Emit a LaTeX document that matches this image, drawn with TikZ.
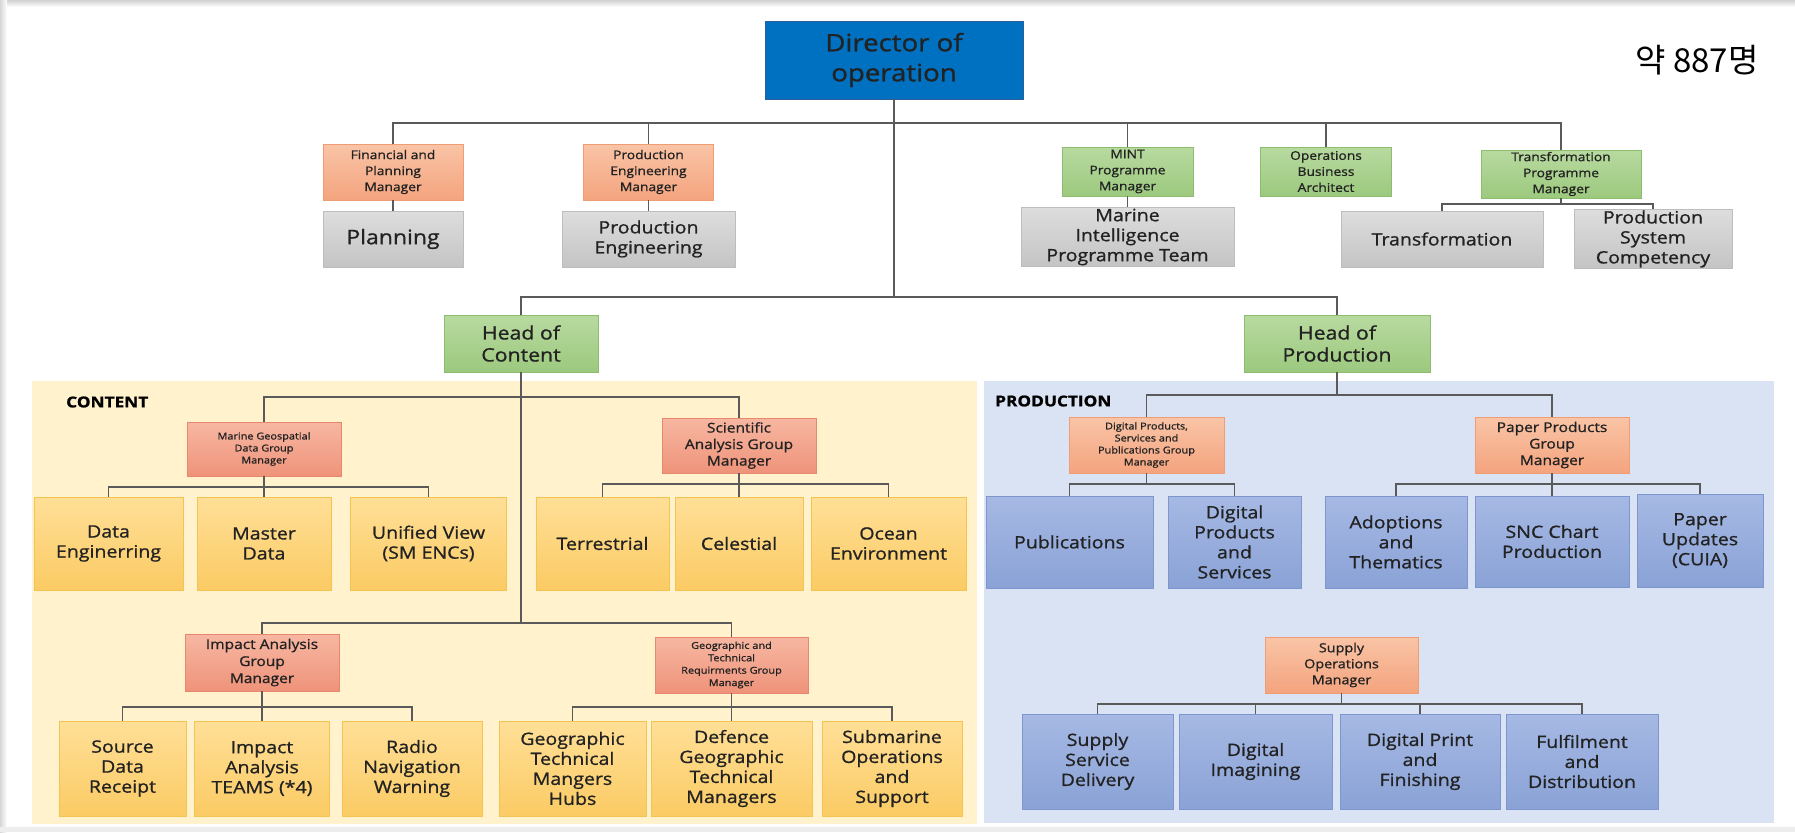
\documentclass[tikz,border=0pt]{standalone}
\usepackage{fontspec}
\setmainfont{Open Sans}[FakeStretch=1.15, FakeBold=1.0]
\newfontfamily\krfont{Noto Sans CJK KR}
\usetikzlibrary{positioning}
\definecolor{txt}{HTML}{222222}
\definecolor{lnc}{HTML}{5A5A5A}
\definecolor{dirfill}{HTML}{0070C0}
\definecolor{dirdraw}{HTML}{2A5F9A}
\definecolor{orT}{HTML}{F9C4A6}
\definecolor{orB}{HTML}{F4A47E}
\definecolor{orD}{HTML}{F09C74}
\definecolor{rdT}{HTML}{F7B7A2}
\definecolor{rdB}{HTML}{EF937A}
\definecolor{rdD}{HTML}{E7886E}
\definecolor{grT}{HTML}{B8DAA0}
\definecolor{grB}{HTML}{9CC97E}
\definecolor{grD}{HTML}{8DBE70}
\definecolor{gyT}{HTML}{DDDDDD}
\definecolor{gyB}{HTML}{C4C4C4}
\definecolor{gyD}{HTML}{BDBDBD}
\definecolor{ylT}{HTML}{FFDF97}
\definecolor{ylB}{HTML}{FBCB64}
\definecolor{ylD}{HTML}{F5C352}
\definecolor{blT}{HTML}{A6B9E4}
\definecolor{blB}{HTML}{8AA2D6}
\definecolor{blD}{HTML}{7D96CE}
\definecolor{cpan}{HTML}{FFF2CC}
\definecolor{ppan}{HTML}{DAE3F3}
\newcommand{\fsz}[2]{\fontsize{#1}{#2}\selectfont}
\tikzset{
  box/.style={rectangle, line width=0.8pt, inner sep=1pt, align=center, text=txt},
  dirbox/.style={box, fill=dirfill, draw=dirdraw, font=\fsz{24}{30}},
  orbox/.style={box, top color=orT, bottom color=orB, draw=orD},
  rdbox/.style={box, top color=rdT, bottom color=rdB, draw=rdD},
  grbox/.style={box, top color=grT, bottom color=grB, draw=grD},
  gybox/.style={box, top color=gyT, bottom color=gyB, draw=gyD},
  ylbox/.style={box, top color=ylT, bottom color=ylB, draw=ylD, font=\fsz{17}{20}},
  blbox/.style={box, top color=blT, bottom color=blB, draw=blD, font=\fsz{17}{20}},
  panel/.style={rectangle, inner sep=0pt, draw=none},
  conn/.style={draw=lnc, line width=1.6pt},
  sz/.style 2 args={minimum width=#1pt, minimum height=#2pt},
  lbl/.style={font=\bfseries\fsz{15}{18}, text=black, anchor=west, inner sep=0pt},
}
\begin{document}
\begin{tikzpicture}[x=1pt,y=-1pt]
\useasboundingbox (0,0) rectangle (1795,832);
% frame
\fill[white] (0,0) rectangle (1795,832);
\shade[top color=black!18, bottom color=white] (0,0) rectangle (1795,7);
\shade[left color=black!16, right color=white] (0,0) rectangle (7,832);
\fill[black!7] (0,827) rectangle (1795,832);

% panels
\node[panel, fill=cpan, sz={945}{443}] (cpanel) at (504.5,602.5) {};
\node[panel, fill=ppan, sz={790}{442}] (ppanel) at (1379,602) {};
\node[lbl] (clbl) at (66,402) {CONTENT};
\node[lbl] (plbl) at (995,401) {PRODUCTION};

% top level
\node[dirbox, sz={258}{78}] (dir) at (894,60) {Director of\\operation};
\node[font=\krfont\fsz{33}{36}, text=black, inner sep=0pt] (cnt) at (1697,60) {약 887명};

\node[orbox, sz={140}{56}, font=\fsz{12}{16}] (fpm) at (393,172) {Financial and\\Planning\\Manager};
\node[gybox, sz={140}{56}, font=\fsz{20}{24}] (plan) at (393,239) {Planning};
\node[orbox, sz={130}{56}, font=\fsz{12}{16}] (pem) at (648.5,172) {Production\\Engineering\\Manager};
\node[gybox, sz={173}{56}, font=\fsz{17}{20}] (peng) at (648.5,239) {Production\\Engineering};
\node[grbox, sz={131}{49}, font=\fsz{12}{16}] (mint) at (1127.5,171.5) {MINT\\Programme\\Manager};
\node[gybox, sz={213}{56}, font=\fsz{17}{20}] (mip) at (1127.5,237) {Marine\\Intelligence\\Programme Team};
\node[grbox, sz={131}{49}, font=\fsz{12}{16}] (oba) at (1326,171.5) {Operations\\Business\\Architect};
\node[grbox, sz={160}{48}, font=\fsz{12}{16}] (tpm) at (1561,174) {Transformation\\Programme\\Manager};
\node[gybox, sz={202}{56}, font=\fsz{17}{20}] (trans) at (1442,239) {Transformation};
\node[gybox, sz={158}{56}, font=\fsz{17}{20}] (psc) at (1653,239) {Production\\System\\Competency};

\node[grbox, sz={154}{57}, font=\fsz{18.5}{22}] (hoc) at (521,343.5) {Head of\\Content};
\node[grbox, sz={186}{57}, font=\fsz{18.5}{22}] (hop) at (1337,343.5) {Head of\\Production};

% content upper
\node[rdbox, sz={154}{54}, font=\fsz{9.5}{12}] (mgd) at (264,449) {Marine Geospatial\\Data Group\\Manager};
\node[rdbox, sz={154}{55}, font=\fsz{13.5}{16.5}] (sag) at (739,445.5) {Scientific\\Analysis Group\\Manager};
\node[ylbox, sz={149}{93}] (de) at (108.5,543.5) {Data\\Enginerring};
\node[ylbox, sz={134}{93}] (md) at (264,543.5) {Master\\Data};
\node[ylbox, sz={156}{93}] (uv) at (428.5,543.5) {Unified View\\(SM ENCs)};
\node[ylbox, sz={133}{93}] (ter) at (602.5,543.5) {Terrestrial};
\node[ylbox, sz={128}{93}] (cel) at (739,543.5) {Celestial};
\node[ylbox, sz={155}{93}] (oce) at (888.5,543.5) {Ocean\\Environment};

% content lower
\node[rdbox, sz={154}{57}, font=\fsz{13.5}{17}] (iag) at (262,662.5) {Impact Analysis\\Group\\Manager};
\node[rdbox, sz={153}{56}, font=\fsz{9.5}{12.4}] (gtr) at (731.5,665) {Geographic and\\Technical\\Requirments Group\\Manager};
\node[ylbox, sz={127}{95}] (sdr) at (122.5,768.5) {Source\\Data\\Receipt};
\node[ylbox, sz={135}{95}] (iat) at (262,768.5) {Impact\\Analysis\\TEAMS (*4)};
\node[ylbox, sz={140}{95}] (rnw) at (412,768.5) {Radio\\Navigation\\Warning};
\node[ylbox, sz={147}{95}] (gtm) at (572.5,768.5) {Geographic\\Technical\\Mangers\\Hubs};
\node[ylbox, sz={161}{95}] (dgt) at (731.5,768.5) {Defence\\Geographic\\Technical\\Managers};
\node[ylbox, sz={140}{95}] (smo) at (892,768.5) {Submarine\\Operations\\and\\Support};

% production upper
\node[orbox, sz={155}{56}, font=\fsz{9.5}{12}] (dps) at (1146.5,445) {Digital Products,\\Services and\\Publications Group\\Manager};
\node[orbox, sz={154}{56}, font=\fsz{13.5}{16.5}] (ppg) at (1552,445) {Paper Products\\Group\\Manager};
\node[blbox, sz={167}{92}] (pub) at (1069.5,542) {Publications};
\node[blbox, sz={133}{92}] (dpsv) at (1234.5,542) {Digital\\Products\\and\\Services};
\node[blbox, sz={142}{92}] (adt) at (1396,542) {Adoptions\\and\\Thematics};
\node[blbox, sz={154}{91}] (snc) at (1552,541.5) {SNC Chart\\Production};
\node[blbox, sz={126}{93}] (pup) at (1700,540.5) {Paper\\Updates\\(CUIA)};

% production lower
\node[orbox, sz={153}{56}, font=\fsz{12.5}{16}] (som) at (1341.5,665) {Supply\\Operations\\Manager};
\node[blbox, sz={151}{95}] (ssd) at (1097.5,761.5) {Supply\\Service\\Delivery};
\node[blbox, sz={153}{95}] (dim) at (1255.5,761.5) {Digital\\Imagining};
\node[blbox, sz={160}{95}] (dpf) at (1420,761.5) {Digital Print\\and\\Finishing};
\node[blbox, sz={152}{95}] (fad) at (1582,761.5) {Fulfilment\\and\\Distribution};

% junctions
\coordinate (j1) at (894,123);
\coordinate (j2) at (1561,204);
\coordinate (j3) at (894,297);
\coordinate (j4) at (521,397);
\coordinate (j5) at (521,623);
\coordinate (j6) at (264,487);
\coordinate (j7) at (739,484);
\coordinate (j8) at (262,707);
\coordinate (j9) at (731.5,707);
\coordinate (j10) at (1337,395);
\coordinate (j11) at (1146.5,484);
\coordinate (j12) at (1552,484);
\coordinate (j13) at (1341.5,704);

% connectors
\draw[conn] (dir.south) -- (j3);
\foreach \n in {fpm,pem,mint,oba,tpm} \draw[conn] (j1) -| (\n.north);
\draw[conn] (fpm.south) -- (plan.north);
\draw[conn] (pem.south) -- (peng.north);
\draw[conn] (mint.south) -- (mip.north);
\draw[conn] (tpm.south) -- (j2);
\foreach \n in {trans,psc} \draw[conn] (j2) -| (\n.north);
\foreach \n in {hoc,hop} \draw[conn] (j3) -| (\n.north);

\draw[conn] (hoc.south) -- (j5);
\foreach \n in {mgd,sag} \draw[conn] (j4) -| (\n.north);
\foreach \n in {iag,gtr} \draw[conn] (j5) -| (\n.north);
\draw[conn] (mgd.south) -- (j6);
\foreach \n in {de,md,uv} \draw[conn] (j6) -| (\n.north);
\draw[conn] (sag.south) -- (j7);
\foreach \n in {ter,cel,oce} \draw[conn] (j7) -| (\n.north);
\draw[conn] (iag.south) -- (j8);
\foreach \n in {sdr,iat,rnw} \draw[conn] (j8) -| (\n.north);
\draw[conn] (gtr.south) -- (j9);
\foreach \n in {gtm,dgt,smo} \draw[conn] (j9) -| (\n.north);

\draw[conn] (hop.south) -- (j10);
\foreach \n in {dps,ppg} \draw[conn] (j10) -| (\n.north);
\draw[conn] (dps.south) -- (j11);
\foreach \n in {pub,dpsv} \draw[conn] (j11) -| (\n.north);
\draw[conn] (ppg.south) -- (j12);
\foreach \n in {adt,snc,pup} \draw[conn] (j12) -| (\n.north);
\draw[conn] (som.south) -- (j13);
\foreach \n in {ssd,dim,dpf,fad} \draw[conn] (j13) -| (\n.north);
\end{tikzpicture}
\end{document}
